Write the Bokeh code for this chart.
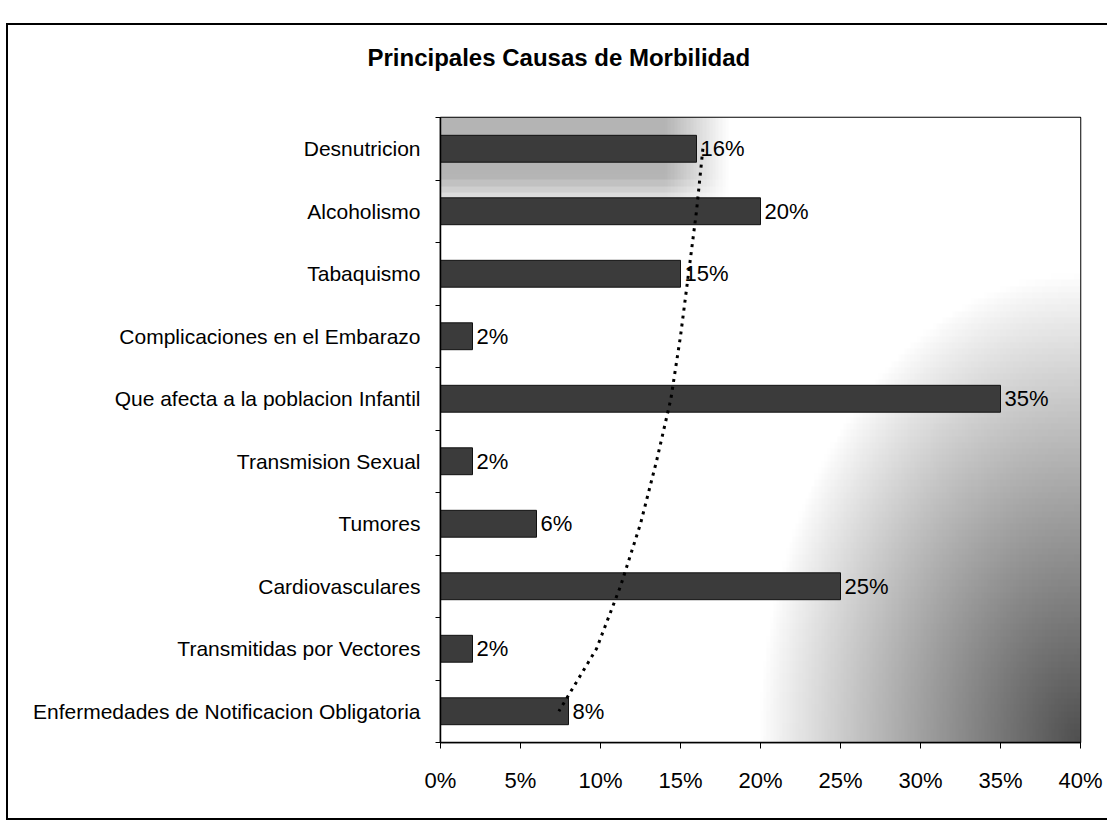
import numpy as np
from bokeh.plotting import figure
from bokeh.models import FixedTicker, PrintfTickFormatter, Range1d, ColumnDataSource, Title
from bokeh.core.properties import value
from bokeh.embed import file_html
from bokeh.resources import INLINE

# ---- data (top to bottom as shown) ----
categories = [
    "Desnutricion",
    "Alcoholismo",
    "Tabaquismo",
    "Complicaciones en el Embarazo",
    "Que afecta a la poblacion Infantil",
    "Transmision Sexual",
    "Tumores",
    "Cardiovasculares",
    "Transmitidas por Vectores",
    "Enfermedades de Notificacion Obligatoria",
]
values = [16, 20, 15, 2, 35, 2, 6, 25, 2, 8]
trend = [16.4, 16.0, 15.5, 15.0, 14.4, 13.5, 12.5, 11.25, 9.75, 7.4]
x_ticks = [0, 5, 10, 15, 20, 25, 30, 35, 40]
title_text = "Principales Causas de Morbilidad"

FONT = "Liberation Sans"
n = len(categories)
ypos = [n - i - 0.5 for i in range(n)]

src = ColumnDataSource(dict(
    y=ypos, v=values, cat=categories, lab=[f"{v}%" for v in values], trend=trend))

p = figure(width=1107, height=820, output_backend="svg", toolbar_location=None,
           x_range=Range1d(0, 40), y_range=Range1d(0, n),
           min_border_left=440, min_border_right=27, min_border_top=117,
           min_border_bottom=78)

# background gradient (style only)
nx, ny = 200, 100
gx = np.linspace(0, 40, nx)
gy = np.linspace(0, n, ny)
X, Y = np.meshgrid(gx, gy)
r = np.sqrt(((40 - X) / 20.0) ** 2 + (Y / 7.5) ** 2)
dark = 175 * np.clip(1 - r, 0, 1) ** 0.9
top = np.clip((Y - 8.5) / 0.6, 0, 1) * np.clip((18 - X) / 4.0, 0, 1) * 75
g = np.clip(255 - dark - top, 0, 255).astype(np.uint32)
img = (255 << 24) | (g << 16) | (g << 8) | g
p.image_rgba(image=[img.astype(np.uint32)], x=0, y=0, dw=40, dh=n)

p.hbar(y="y", right="v", left=0, height=0.43, source=src,
       fill_color="#3b3b3b", line_color="#111111", line_width=1)

p.line(x="trend", y="y", source=src, line_color="black", line_width=3,
       line_dash="3 5")

p.text(x="v", y="y", text="lab", source=src, x_offset=4,
       text_baseline="middle", text_align="left",
       text_font=value(FONT), text_font_size="22px", text_color="black")

p.grid.visible = False
p.background_fill_color = "white"
p.outline_line_color = "black"
p.outline_line_width = 1.5
p.border_fill_alpha = 0

# axes
xa = p.xaxis[0]
xa.ticker = FixedTicker(ticks=x_ticks)
xa.formatter = PrintfTickFormatter(format="%d%%")
xa.major_tick_out = 6
xa.major_tick_in = 0
xa.minor_tick_out = 0
xa.minor_tick_in = 0
xa.major_label_standoff = 19
xa.major_label_text_font = FONT
xa.major_label_text_font_size = "22px"
xa.major_label_text_color = "black"
xa.axis_line_color = "black"
xa.axis_line_width = 1.5

ya = p.yaxis[0]
ya.ticker = FixedTicker(ticks=ypos, minor_ticks=list(range(n + 1)))
ya.major_label_overrides = {y: c for y, c in zip(ypos, categories)}
ya.major_tick_out = 0
ya.major_tick_in = 0
ya.minor_tick_out = 5
ya.minor_tick_in = 0
ya.major_label_standoff = 15
ya.major_label_text_font = FONT
ya.major_label_text_font_size = "21px"
ya.major_label_text_color = "black"
ya.axis_line_color = "black"
ya.axis_line_width = 1.5

# spacer title between frame and real title
p.add_layout(Title(text=" ", text_font_size="26px"), "above")

p.title.text = title_text
p.title.align = "left"
p.title.offset = -73
p.title.text_font = FONT
p.title.text_font_size = "24px"
p.title.text_font_style = "bold"
p.title.text_color = "black"

p.styles = {"background": "white",
            "box-shadow": ("inset 6px 23px 0 0 white, inset 8px 25px 0 0 black, "
                           "inset 0 -2px 0 0 black")}

open("out.html", "w").write(file_html(p, INLINE))
